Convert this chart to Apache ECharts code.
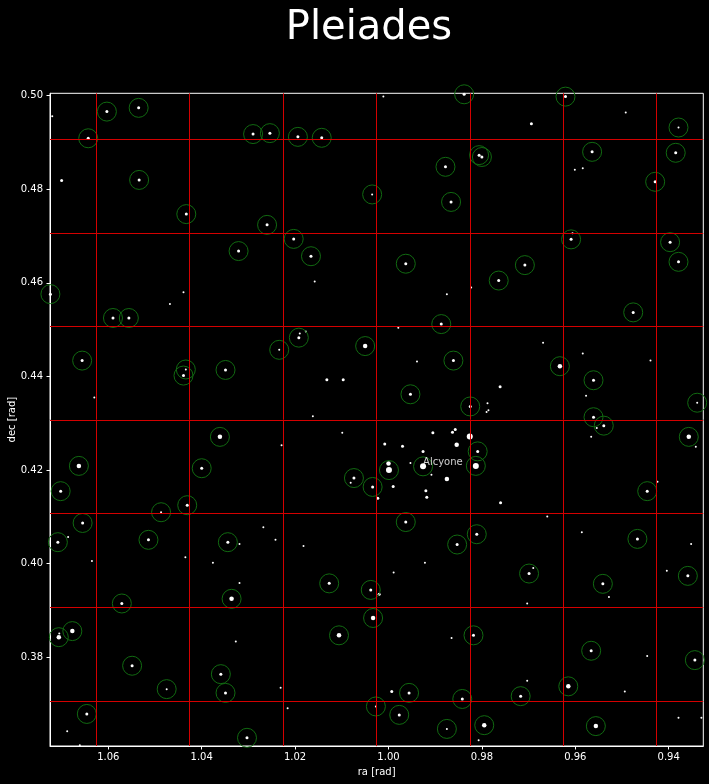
<!DOCTYPE html>
<html>
<head>
<meta charset="utf-8">
<script src="https://cdn.jsdelivr.net/npm/echarts@6/dist/echarts.min.js"></script>
<style>
  html, body { margin: 0; padding: 0; background: #000; }
  #chart { width: 709px; height: 784px; }
</style>
</head>
<body>
<div id="chart"></div>
<script>
// stars: [ra, dec, brightness class 1..4, ringed 0/1]
const stars = [
  [1.0720, 0.4956, 1, 0], [1.0603, 0.4966, 2, 1], [1.0535, 0.4974, 2, 1], [1.0643, 0.4909, 2, 1],
  [1.0700, 0.4819, 2, 0], [1.0534, 0.4820, 2, 1], [1.0433, 0.4747, 2, 1], [1.0321, 0.4668, 2, 1],
  [1.0724, 0.4576, 2, 1], [1.0439, 0.4580, 1, 0], [1.0468, 0.4555, 1, 0], [1.0590, 0.4525, 2, 1],
  [1.0556, 0.4525, 2, 1], [1.0011, 0.4998, 1, 0], [0.9838, 0.5003, 2, 1], [1.0290, 0.4918, 2, 1],
  [1.0254, 0.4920, 2, 1], [1.0194, 0.4912, 2, 1], [1.0143, 0.4910, 2, 1], [0.9878, 0.4848, 2, 1],
  [1.0035, 0.4789, 1, 1], [0.9866, 0.4773, 2, 1], [1.0260, 0.4724, 2, 1], [1.0203, 0.4694, 2, 1],
  [1.0166, 0.4657, 2, 1], [1.0158, 0.4603, 1, 0], [0.9963, 0.4641, 2, 1], [0.9875, 0.4576, 1, 0],
  [0.9887, 0.4512, 2, 1], [0.9806, 0.4873, 2, 1], [0.9800, 0.4869, 2, 1], [0.9656, 0.5010, 2, 1],
  [0.9621, 0.4998, 2, 1], [0.9694, 0.4940, 2, 0], [0.9492, 0.4964, 1, 0], [0.9379, 0.4932, 1, 1],
  [0.9564, 0.4880, 2, 1], [0.9385, 0.4878, 2, 1], [0.9601, 0.4842, 1, 0], [0.9584, 0.4845, 1, 0],
  [0.9429, 0.4816, 2, 1], [0.9609, 0.4693, 2, 1], [0.9606, 0.4706, 1, 0], [0.9397, 0.4687, 2, 1],
  [0.9379, 0.4645, 2, 1], [0.9708, 0.4638, 2, 1], [0.9764, 0.4605, 2, 1], [0.9823, 0.4590, 1, 0],
  [0.9476, 0.4537, 2, 1], [1.0656, 0.4434, 2, 1], [1.0630, 0.4355, 1, 0], [1.0434, 0.4415, 1, 1],
  [1.0439, 0.4402, 2, 1], [1.0349, 0.4414, 2, 1], [1.0361, 0.4271, 3, 1], [1.0663, 0.4209, 3, 1],
  [1.0400, 0.4204, 2, 1], [1.0702, 0.4155, 2, 1], [1.0487, 0.4110, 1, 1], [1.0431, 0.4125, 2, 1],
  [1.0655, 0.4087, 2, 1], [1.0708, 0.4046, 2, 1], [1.0686, 0.4057, 1, 0], [1.0514, 0.4051, 2, 1],
  [1.0344, 0.4046, 2, 1], [1.0192, 0.4483, 2, 1], [1.0190, 0.4492, 1, 0], [1.0177, 0.4496, 1, 0],
  [1.0234, 0.4457, 1, 1], [1.0050, 0.4465, 3, 1], [0.9979, 0.4504, 1, 0], [0.9939, 0.4432, 1, 0],
  [0.9861, 0.4434, 2, 1], [1.0132, 0.4393, 2, 0], [1.0097, 0.4393, 2, 0], [0.9953, 0.4362, 2, 1],
  [0.9825, 0.4336, 2, 1], [1.0162, 0.4315, 1, 0], [1.0099, 0.4280, 1, 0], [1.0229, 0.4253, 1, 0],
  [1.0008, 0.4256, 2, 0], [0.9970, 0.4251, 2, 0], [0.9905, 0.4280, 2, 0], [0.9863, 0.4281, 2, 0],
  [0.9857, 0.4287, 2, 0], [0.9826, 0.4272, 4, 0], [0.9854, 0.4254, 3, 0], [0.9926, 0.4240, 2, 0],
  [0.9953, 0.4215, 1, 0], [0.9809, 0.4240, 2, 1], [0.9813, 0.4209, 4, 1], [0.9999, 0.4200, 4, 1],
  [1.0000, 0.4214, 3, 0], [0.9926, 0.4208, 4, 1], [0.9908, 0.4190, 1, 0], [0.9875, 0.4181, 3, 0],
  [1.0074, 0.4183, 2, 1], [1.0081, 0.4173, 1, 0], [1.0034, 0.4164, 2, 1], [0.9990, 0.4165, 2, 0],
  [1.0023, 0.4140, 2, 0], [0.9920, 0.4156, 2, 0], [0.9918, 0.4142, 2, 0], [0.9963, 0.4089, 2, 1],
  [1.0268, 0.4078, 1, 0], [1.0242, 0.4051, 1, 0], [0.9853, 0.4041, 2, 1], [0.9811, 0.4063, 2, 1],
  [0.9669, 0.4472, 1, 0], [0.9584, 0.4449, 1, 0], [0.9439, 0.4434, 1, 0], [0.9633, 0.4422, 3, 1],
  [0.9561, 0.4392, 2, 1], [0.9577, 0.4359, 1, 0], [0.9761, 0.4378, 2, 0], [0.9339, 0.4344, 1, 1],
  [0.9788, 0.4343, 1, 0], [0.9786, 0.4328, 1, 0], [0.9790, 0.4324, 1, 0], [0.9561, 0.4313, 2, 1],
  [0.9539, 0.4295, 2, 1], [0.9554, 0.4290, 1, 0], [0.9566, 0.4271, 1, 0], [0.9357, 0.4271, 3, 1],
  [0.9342, 0.4250, 1, 0], [0.9760, 0.4130, 2, 0], [0.9446, 0.4155, 2, 1], [0.9424, 0.4175, 1, 0],
  [0.9660, 0.4101, 1, 0], [0.9586, 0.4067, 1, 0], [0.9467, 0.4053, 2, 1], [1.0319, 0.4042, 1, 0],
  [1.0635, 0.4006, 1, 0], [1.0435, 0.4014, 1, 0], [1.0376, 0.4002, 1, 0], [1.0319, 0.3959, 1, 0],
  [1.0571, 0.3915, 2, 1], [1.0336, 0.3925, 3, 1], [1.0706, 0.3843, 3, 1], [1.0705, 0.3851, 1, 0],
  [1.0677, 0.3856, 3, 1], [1.0327, 0.3834, 1, 0], [1.0549, 0.3782, 2, 1], [1.0359, 0.3764, 2, 1],
  [1.0349, 0.3724, 2, 1], [1.0475, 0.3732, 1, 1], [1.0646, 0.3679, 2, 1], [1.0688, 0.3642, 1, 0],
  [1.0661, 0.3612, 1, 0], [1.0387, 0.3606, 2, 1], [1.0303, 0.3628, 2, 1], [1.0182, 0.4038, 1, 0],
  [0.9922, 0.4002, 1, 0], [0.9989, 0.3981, 1, 0], [1.0127, 0.3958, 2, 1], [1.0038, 0.3944, 2, 1],
  [1.0020, 0.3935, 2, 0], [1.0033, 0.3884, 3, 1], [1.0106, 0.3847, 3, 1], [0.9865, 0.3841, 1, 0],
  [0.9818, 0.3847, 2, 1], [1.0231, 0.3735, 1, 0], [0.9993, 0.3727, 2, 0], [0.9956, 0.3724, 2, 1],
  [1.0216, 0.3691, 1, 0], [1.0027, 0.3695, 1, 1], [0.9977, 0.3677, 2, 1], [0.9842, 0.3711, 2, 1],
  [0.9875, 0.3647, 1, 1], [0.9352, 0.4042, 1, 0], [0.9699, 0.3979, 2, 1], [0.9690, 0.3991, 1, 0],
  [0.9404, 0.3985, 1, 0], [0.9359, 0.3974, 2, 1], [0.9541, 0.3957, 2, 1], [0.9528, 0.3929, 1, 0],
  [0.9703, 0.3915, 1, 0], [0.9566, 0.3814, 2, 1], [0.9446, 0.3803, 1, 0], [0.9344, 0.3794, 2, 1],
  [0.9703, 0.3750, 1, 0], [0.9615, 0.3738, 3, 1], [0.9494, 0.3727, 1, 0], [0.9717, 0.3717, 2, 1],
  [0.9795, 0.3655, 3, 1], [0.9807, 0.3623, 1, 0], [0.9556, 0.3653, 3, 1], [0.9379, 0.3671, 1, 0],
  [0.9330, 0.3671, 1, 0]
];

const alcyone = [0.9926, 0.4208];

// red reference grid
const raGrid = [1.0626, 1.0426, 1.0226, 1.0026, 0.9826, 0.9626, 0.9426];
const decGrid = [0.4907, 0.4707, 0.4507, 0.4307, 0.4107, 0.3907, 0.3707];

const raTicks = [0.94, 0.96, 0.98, 1.00, 1.02, 1.04, 1.06];
const decTicks = [0.38, 0.40, 0.42, 0.44, 0.46, 0.48, 0.50];

const dotSize = { 1: 2, 2: 3, 3: 4.5, 4: 6 };

const font = "DejaVu Sans";
const chart = echarts.init(document.getElementById("chart"));

const axisCommon = {
  type: "value",
  nameLocation: "middle",
  nameMoveOverlap: false,
  nameTextStyle: { color: "#fff", fontSize: 10, fontFamily: font },
  axisLine: { show: true, lineStyle: { color: "#fff", width: 1 } },
  splitLine: { show: false },
};

chart.setOption({
  animation: false,
  backgroundColor: "#000",
  title: {
    text: "Pleiades",
    left: 364,
    textAlign: "center",
    top: 4,
    textStyle: { color: "#fff", fontSize: 40, fontWeight: "normal", fontFamily: font },
  },
  grid: {
    left: 50, top: 93.3, width: 653.3, height: 652.7,
    containLabel: false, outerBoundsMode: "none",
    show: true, borderColor: "#fff", borderWidth: 1, backgroundColor: "#000",
  },
  xAxis: Object.assign({}, axisCommon, {
    inverse: true,
    min: 0.932591,
    max: 1.072484,
    name: "ra [rad]",
    nameGap: 21,
    axisTick: { show: true, length: 3.5, customValues: raTicks, lineStyle: { color: "#fff" } },
    axisLabel: {
      customValues: raTicks, margin: 6, color: "#fff", fontSize: 10, fontFamily: font,
      formatter: (v) => v.toFixed(2),
    },
  }),
  yAxis: Object.assign({}, axisCommon, {
    min: 0.36105,
    max: 0.50051,
    name: "dec [rad]",
    nameRotate: 90,
    nameGap: 33,
    axisTick: { show: true, length: 3.5, customValues: decTicks, lineStyle: { color: "#fff" } },
    axisLabel: {
      customValues: decTicks, margin: 7, color: "#fff", fontSize: 10, fontFamily: font,
      formatter: (v) => v.toFixed(2),
    },
  }),
  series: [
    {
      type: "scatter",
      name: "stars",
      clip: true,
      symbol: "circle",
      data: stars.map((s) => [s[0], s[1], s[2]]),
      symbolSize: (v) => dotSize[v[2]],
      itemStyle: { color: "#fff", opacity: 1 },
      z: 2,
    },
    {
      type: "scatter",
      name: "rings",
      clip: true,
      symbol: "circle",
      symbolSize: 19,
      data: stars.filter((s) => s[3] === 1).map((s) => [s[0], s[1]]),
      itemStyle: { color: "transparent", borderColor: "#116a11", borderWidth: 1, opacity: 1 },
      z: 3,
    },
    {
      type: "scatter",
      name: "label",
      symbolSize: 0,
      data: [alcyone],
      label: {
        show: true, formatter: "Alcyone", position: "right", distance: 0, offset: [0, -4],
        color: "#fff", fontSize: 10, fontFamily: font,
      },
      z: 5,
    },
    {
      type: "line",
      name: "grid",
      data: [],
      markLine: {
        silent: true,
        precision: 6,
        symbol: ["none", "none"],
        label: { show: false },
        lineStyle: { color: "#d40000", width: 1, type: "solid" },
        emphasis: { disabled: true },
        data: raGrid.map((v) => ({ xAxis: v })).concat(decGrid.map((v) => ({ yAxis: v }))),
      },
      z: 4,
    },
  ],
});
</script>
</body>
</html>
